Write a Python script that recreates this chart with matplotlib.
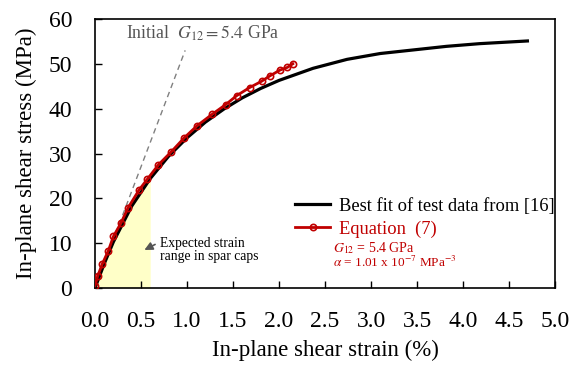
import numpy as np
import matplotlib
matplotlib.use('Agg')
import matplotlib.pyplot as plt

plt.rcParams['font.family'] = ['Liberation Serif', 'DejaVu Serif']
plt.rcParams['mathtext.fontset'] = 'stix'

# best fit of test data (strain %, stress MPa)
fit_strain = [0.0, 0.1, 0.2, 0.4, 0.6, 0.8, 1.0, 1.2, 1.4, 1.6, 1.8, 2.0, 2.37, 2.74, 3.1, 3.46, 3.82, 4.18, 4.7]
fit_stress = [0.0, 5.4, 10.3, 18.3, 24.4, 29.4, 33.5, 37.0, 39.9, 42.4, 44.5, 46.3, 49.0, 51.0, 52.3, 53.1, 53.9, 54.5, 55.1]

# equation (7) points
eq_strain = [0.0, 0.03, 0.08, 0.145, 0.2, 0.28, 0.36, 0.48, 0.57, 0.69, 0.83, 0.97, 1.11, 1.27, 1.42, 1.54, 1.68, 1.81, 1.90, 2.01, 2.09, 2.15]
eq_stress = [0.5, 2.7, 5.4, 8.3, 11.5, 14.4, 17.9, 21.9, 24.3, 27.5, 30.4, 33.5, 36.2, 38.7, 40.9, 42.9, 44.7, 46.1, 47.3, 48.6, 49.2, 50.0]

# initial modulus line
init_strain = [0.0, 0.98]
init_stress = [0.0, 53.0]

spar_max = 0.6

fig = plt.figure(figsize=(5.78, 3.65), dpi=100)
ax = fig.add_axes([95 / 578, 77 / 365, 460 / 578, 269 / 365])

# expected strain range shading
xs = np.linspace(0, spar_max, 50)
ax.fill_between(xs, 0, np.interp(xs, fit_strain, fit_stress), color='#FFFFC8', lw=0, zorder=1)

ax.plot(init_strain, init_stress, color='#808080', ls=(0, (4, 3)), lw=1.0, zorder=2)
l1, = ax.plot(fit_strain, fit_stress, color='black', lw=2.3, zorder=3,
              label='Best fit of test data from [16]')
l2, = ax.plot(eq_strain, eq_stress, color='#C00000', lw=2.0, marker='o', ms=4.5,
              mfc='none', mec='#C00000', mew=1.2, zorder=4, label='Equation  (7)')

ax.text(0.34, 56.7, r'Initial  $G_{12} = 5.4$ GPa', color='#555555', fontsize=12.8,
        va='center', ha='left')

ax.annotate('', xy=(0.51, 8.2), xytext=(0.68, 10.0),
            arrowprops=dict(arrowstyle='-|>', color='#555555', lw=1.2, mutation_scale=12))
ax.text(0.71, 8.5, 'Expected strain\nrange in spar caps', fontsize=9.8, va='center',
        ha='left', linespacing=1.0)

leg = ax.legend(handles=[l1, l2], loc='upper left', bbox_to_anchor=(0.415, 0.37),
                frameon=False, fontsize=13.3, handlelength=1.9, handletextpad=0.5,
                labelspacing=0.3, borderpad=0)
leg.get_texts()[1].set_color('#C00000')

ax.text(0.517, 0.148, r'$G_{12}$ = 5.4 GPa', transform=ax.transAxes, color='#C00000',
        fontsize=10, va='center', ha='left')
ax.text(0.517, 0.094, r'$\alpha$ = 1.01 x 10$^{-7}$ MPa$^{-3}$', transform=ax.transAxes,
        color='#C00000', fontsize=9.5, va='center', ha='left')

ax.set_xlim(0, 5)
ax.set_ylim(0, 60)
ax.set_xticks(np.arange(0, 5.01, 0.5))
ax.set_xticklabels(['%.1f' % v for v in np.arange(0, 5.01, 0.5)])
ax.set_yticks(range(0, 61, 10))
ax.tick_params(direction='in', length=5, width=1, labelsize=17, pad=16.5)
for s in ax.spines.values():
    s.set_linewidth(1.2)
ax.set_xlabel('In-plane shear strain (%)', fontsize=16.5, labelpad=5.5)
ax.set_ylabel('In-plane shear stress (MPa)', fontsize=16.5, labelpad=8)

fig.savefig('out.png', dpi=100)
